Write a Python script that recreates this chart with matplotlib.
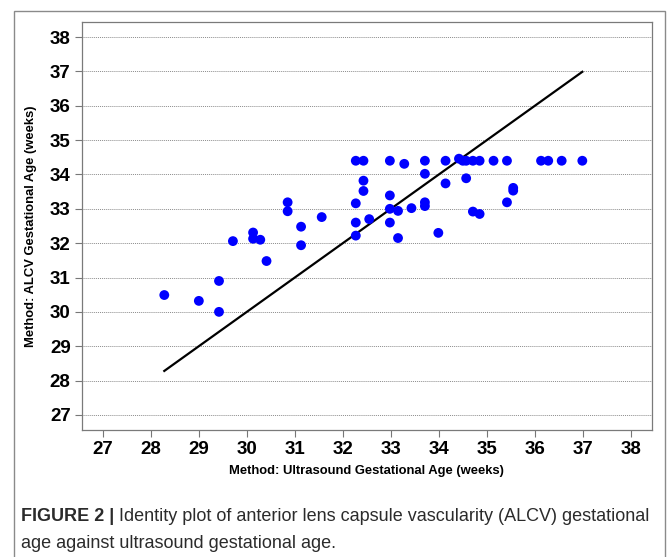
import matplotlib
matplotlib.use("Agg")
import matplotlib.pyplot as plt
from matplotlib import font_manager
from matplotlib.patches import Rectangle

# values (weeks)
ultrasound_ga = [28.28, 29.0, 29.42, 29.42, 29.71, 30.13, 30.13, 30.28, 30.41,
                 30.85, 30.85, 31.13, 31.13, 31.56, 32.27, 32.43, 32.43, 32.43,
                 32.27, 32.27, 32.27, 32.55, 32.98, 32.98, 32.98, 32.98,
                 33.28, 33.71, 33.71, 34.14, 34.14, 34.42, 34.5, 34.57, 34.57,
                 34.71, 34.85, 35.14, 35.42, 36.13, 36.28, 36.56, 36.99,
                 33.15, 33.43, 33.71, 33.71, 33.15, 33.99, 34.71, 34.85, 35.42,
                 35.55, 35.55]
alcv_ga = [30.49, 30.32, 30.90, 30.0, 32.06, 32.31, 32.13, 32.10, 31.48,
           33.19, 32.93, 32.48, 31.94, 32.76, 34.40, 34.40, 33.82, 33.52,
           33.16, 32.60, 32.22, 32.70, 34.40, 33.39, 33.0, 32.60,
           34.31, 34.40, 34.02, 34.40, 33.74, 34.46, 34.40, 34.40, 33.89,
           34.40, 34.40, 34.40, 34.40, 34.40, 34.40, 34.40, 34.40,
           32.94, 33.02, 33.19, 33.08, 32.15, 32.30, 32.92, 32.85, 33.19,
           33.61, 33.53]
ticks = list(range(27, 39))

caption_bold = "FIGURE 2 |"
caption_rest = " Identity plot of anterior lens capsule vascularity (ALCV) gestational"
caption_line2 = "age against ultrasound gestational age."

names = {f.name for f in font_manager.fontManager.ttflist}
narrow = "Liberation Sans Narrow" if "Liberation Sans Narrow" in names else "Liberation Sans"
plt.rcParams["font.family"] = ["Liberation Sans", "DejaVu Sans"]

fig = plt.figure(figsize=(6.7, 5.57), dpi=100)

# outer frame of the figure panel
fig.patches.append(Rectangle((14 / 670, -0.05), 651 / 670, 1.05 - 11 / 557,
                             transform=fig.transFigure, fill=False,
                             edgecolor="#8a8a8a", linewidth=1.0))

ax = fig.add_axes([0.122, 0.228, 0.851, 0.7325])

# identity line over the range of the ultrasound values
lo, hi = min(ultrasound_ga), max(ultrasound_ga)
ax.plot([lo, hi], [lo, hi], color="black", linewidth=1.6, zorder=3)
ax.scatter(ultrasound_ga, alcv_ga, s=50, color="#0000ff", edgecolors="none", zorder=4)

ax.set_xlim(26.56, 38.44)
ax.set_ylim(26.56, 38.44)
ax.set_xticks(ticks)
ax.set_yticks(ticks)
ax.set_xticklabels([str(t) for t in ticks], fontsize=13.5, fontweight="bold",
                   family=narrow)
ax.set_yticklabels([str(t) for t in ticks], fontsize=13.5, fontweight="bold",
                   family=narrow)
ax.tick_params(direction="out", length=5, width=0.8, color="#777777", pad=3)

for t in ticks:
    ax.axhline(t, color="#8c8c8c", linestyle=(0, (1, 1)), linewidth=0.7, zorder=1)

for s in ax.spines.values():
    s.set_color("#7a7a7a")
    s.set_linewidth(0.9)

ax.set_xlabel("Method: Ultrasound Gestational Age (weeks)", fontsize=9.4,
              fontweight="bold", labelpad=5)
ax.set_ylabel("Method: ALCV Gestational Age (weeks)", fontsize=9.4,
              fontweight="bold", labelpad=9)

# caption under the chart
cap = fig.text(21 / 670, 1 - 521 / 557, caption_bold, fontsize=13.0,
               fontweight="bold", family=narrow, color="#2b2b2b", va="baseline")
fig.draw_without_rendering()
ax.annotate(caption_rest, xy=(1, 0), xycoords=cap, va="bottom", ha="left",
            fontsize=13.0, family=narrow, color="#2b2b2b",
            annotation_clip=False)
fig.text(21 / 670, 1 - 548 / 557, caption_line2, fontsize=13.0,
         family=narrow, color="#2b2b2b", va="baseline")

fig.savefig("out.png", dpi=100)
